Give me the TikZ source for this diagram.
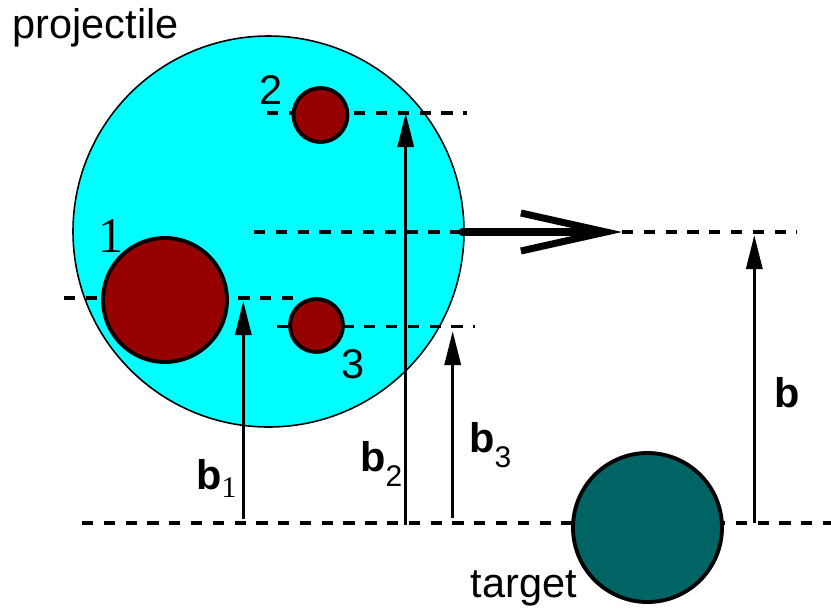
\documentclass[tikz,border=0pt]{standalone}
\usepackage{fontspec}
\setmainfont{Liberation Sans}
\newfontfamily\timesfont{Liberation Serif}
\usetikzlibrary{arrows.meta}

\definecolor{nucred}{RGB}{150,0,0}
\definecolor{projcyan}{RGB}{0,255,255}
\definecolor{targteal}{RGB}{0,100,100}

% b with a subscript, shifted down by #2
\newcommand{\bvec}[2]{\textbf{b}\raisebox{#2}{\fontsize{8.5}{10}\selectfont #1}}

\begin{document}
\begin{tikzpicture}[
  >={Triangle[length=3.4mm,width=1.6mm]},
  guide/.style={dash pattern=on 3.2pt off 3pt,line width=1.1pt},
  impact/.style={->,line width=0.9pt},
  nucleon/.style={circle,draw,line width=1.1pt,fill=nucred,inner sep=0pt},
  lbl/.style={font=\fontsize{11.8}{14}\selectfont,inner sep=0pt},
  bnum/.style={font=\fontsize{11.8}{14}\selectfont,inner sep=0pt,anchor=base west}
]
  \useasboundingbox (0,0) rectangle (8.31,6.08);

  % projectil
  \node[circle,draw,line width=0.45pt,fill=projcyan,inner sep=0pt,minimum size=3.91cm] (proj) at (2.685,3.765) {};

  % lineas de referencia
  \coordinate (l2a) at (2.67,4.95);  \coordinate (l2b) at (4.67,4.95);
  \coordinate (lca) at (2.54,3.76);  \coordinate (lcb) at (4.62,3.76);
  \coordinate (l1a) at (0.64,3.10);  \coordinate (l1b) at (2.98,3.10);
  \coordinate (l3a) at (2.77,2.815); \coordinate (l3b) at (4.75,2.815);
  \coordinate (lba) at (0.82,0.85);  \coordinate (lbb) at (8.31,0.85);
  \coordinate (lra) at (6.22,3.76);  \coordinate (lrb) at (7.97,3.76);
  \draw[guide] (l2a) -- (l2b);
  \draw[guide] (lca) -- (lcb);
  \draw[guide] (l1a) -- (l1b);
  \draw[guide] (l3a) -- (l3b);
  \draw[guide] (lba) -- (lbb);
  \draw[guide] (lra) -- (lrb);

  % nucleones
  \node[nucleon,minimum size=1.24cm] (n1) at (1.65,3.08) {};
  \node[nucleon,minimum size=0.54cm] (n2) at (3.205,4.93) {};
  \node[nucleon,minimum size=0.53cm] (n3) at (3.165,2.825) {};

  % blanco
  \node[circle,draw,line width=1.1pt,fill=targteal,inner sep=0pt,minimum size=1.49cm] (targ) at (6.475,0.805) {};

  % direccion del movimiento
  \draw[line width=2pt,line cap=round,-{Straight Barb[length=8.5mm,width=3.8mm]}] (lcb) -- (lra);

  % parametros de impacto
  \coordinate (b1a) at (2.433,0.89); \coordinate (b1b) at (2.433,3.07);
  \coordinate (b2a) at (4.057,0.83); \coordinate (b2b) at (4.057,4.95);
  \coordinate (b3a) at (4.527,0.90); \coordinate (b3b) at (4.527,2.77);
  \coordinate (bba) at (7.543,0.85); \coordinate (bbb) at (7.543,3.73);
  \draw[impact] (b1a) -- (b1b);
  \draw[impact] (b2a) -- (b2b);
  \draw[impact] (b3a) -- (b3b);
  \draw[impact] (bba) -- (bbb);

  % textos
  \node[lbl,anchor=base west] (tproj) at (0.12,5.70) {projectile};
  \node[lbl,anchor=base west] (ttarg) at (4.70,0.11) {target};
  \node[inner sep=0pt,anchor=base,font=\fontsize{14.2}{16}\selectfont\timesfont] (t1) at (1.11,3.56) {1};
  \node[lbl,anchor=base] (t2) at (2.71,5.04) {2};
  \node[lbl,anchor=base] (t3) at (3.53,2.30) {3};
  \node[bnum] (tb1) at (1.955,1.19) {\bvec{\timesfont 1}{-0.08cm}};
  \node[bnum] (tb2) at (3.595,1.37) {\bvec{2}{-0.15cm}};
  \node[bnum] (tb3) at (4.685,1.56) {\bvec{3}{-0.15cm}};
  \node[bnum] (tb) at (7.735,2.01) {\textbf{b}};
\end{tikzpicture}
\end{document}
